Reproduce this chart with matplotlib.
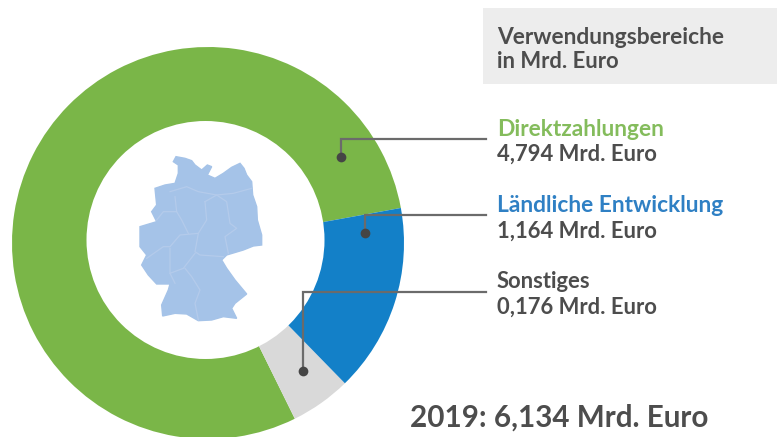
import matplotlib
matplotlib.use("Agg")
import matplotlib.pyplot as plt
from matplotlib.patches import Rectangle, Polygon, Circle

W, H = 777, 437

# drawn wedge spans in degrees (the graphic is not to scale with the amounts)
categories = ["Direktzahlungen", "Sonstiges", "Ländliche Entwicklung"]
spans = [286, 18, 56]
colors = ["#7AB648", "#D9D9D9", "#1380C8"]

amounts = ["4,794 Mrd. Euro", "1,164 Mrd. Euro", "0,176 Mrd. Euro"]
title_lines = ["Verwendungsbereiche", "in Mrd. Euro"]
total = "2019: 6,134 Mrd. Euro"

map_zoom = [(168, 50), (195, 55), (215, 62), (225, 75), (245, 90), (262, 75), (275, 80), (262, 105),
            (285, 115), (310, 100), (335, 82), (360, 70), (372, 85), (380, 105), (395, 125), (398, 165),
            (410, 200), (412, 240), (425, 285), (425, 315), (400, 318), (370, 330), (320, 345), (305, 360),
            (320, 385), (345, 420), (380, 462), (345, 490), (335, 505), (350, 535), (310, 530), (275, 540),
            (235, 542), (200, 522), (165, 520), (128, 528), (125, 495), (145, 450), (150, 432), (110, 432),
            (85, 405), (65, 375), (80, 345), (60, 320), (60, 260), (110, 245), (95, 215), (110, 195),
            (105, 145), (135, 135), (165, 130), (175, 100), (175, 75), (160, 65)]

# inner borders of the states, same crop
borders_zoom = [
    [(150, 155), (200, 140), (235, 155), (290, 165), (340, 160), (395, 145)],
    [(255, 185), (290, 165), (320, 185), (330, 250), (350, 265), (315, 290), (325, 340)],
    [(255, 185), (260, 240), (235, 280), (180, 285), (150, 320), (130, 320), (80, 355)],
    [(235, 280), (225, 335), (240, 345), (310, 350)],
    [(150, 325), (150, 400), (190, 385), (225, 340)],
    [(195, 385), (215, 410), (240, 450), (225, 490), (235, 540)],
    [(150, 400), (165, 430)],
    [(170, 215), (185, 240), (205, 280)],
    [(110, 240), (130, 215), (170, 215), (165, 170)],
]


def py(y):
    return H - y


def from_zoom(points):
    return [(120 + x / 3, py(140 + y / 3)) for x, y in points]


fig = plt.figure(figsize=(W / 100, H / 100), dpi=100)
ax = fig.add_axes([0, 0, 1, 1])

ax.pie(spans,
       colors=colors,
       startangle=10.3,
       radius=196,
       center=(208, py(243)),
       wedgeprops=dict(linewidth=0))
ax.add_patch(Circle((205.5, py(240)), 119, facecolor="white", edgecolor="none", zorder=2))

ax.add_patch(Polygon(from_zoom(map_zoom),
                     closed=True, facecolor="#A5C3E8", edgecolor="#A5C3E8", lw=1, zorder=3))
for border in borders_zoom:
    pts = from_zoom(border)
    ax.plot([p[0] for p in pts], [p[1] for p in pts], color="#B4CBEB", lw=0.9, zorder=4)

ax.add_patch(Rectangle((483, py(84)), 294, 76, facecolor="#EDEDED", edgecolor="none"))

line_color = "#6B6B6B"
dot_color = "#454545"
leaders = [([341, 341, 486], [157, 139, 139]),
           ([365, 365, 486], [233, 215, 215]),
           ([303, 303, 486], [371, 292, 292])]
for lx, ly in leaders:
    ly = [py(v) for v in ly]
    ax.plot(lx, ly, color=line_color, lw=1.6, solid_joinstyle="miter", zorder=5)
    ax.plot(lx[0], ly[0], "o", color=dot_color, ms=7, mew=0, zorder=6)

ax.set_xlim(0, W)
ax.set_ylim(0, H)
ax.set_aspect("auto")
ax.axis("off")

font = "Lato"
dark = "#4D4D4D"
head = 16.4
size = 15.8
ax.text(497, py(37), title_lines[0], fontsize=head, fontweight="bold", color=dark, family=font, va="center")
ax.text(497, py(62), title_lines[1], fontsize=size, fontweight="bold", color=dark, family=font, va="center")

ax.text(497, py(129), categories[0], fontsize=head, fontweight="bold", color="#84BC5C", family=font, va="center")
ax.text(497, py(154), amounts[0], fontsize=size, fontweight="bold", color=dark, family=font, va="center")
ax.text(497, py(205), categories[2], fontsize=head, fontweight="bold", color="#2F80C4", family=font, va="center")
ax.text(497, py(231), amounts[1], fontsize=size, fontweight="bold", color=dark, family=font, va="center")
ax.text(497, py(281), categories[1], fontsize=size, fontweight="bold", color=dark, family=font, va="center")
ax.text(497, py(307), amounts[2], fontsize=size, fontweight="bold", color=dark, family=font, va="center")

ax.text(410, py(418), total, fontsize=21.3, fontweight="bold", color=dark, family=font, va="center")

fig.savefig("out.png", dpi=100)
